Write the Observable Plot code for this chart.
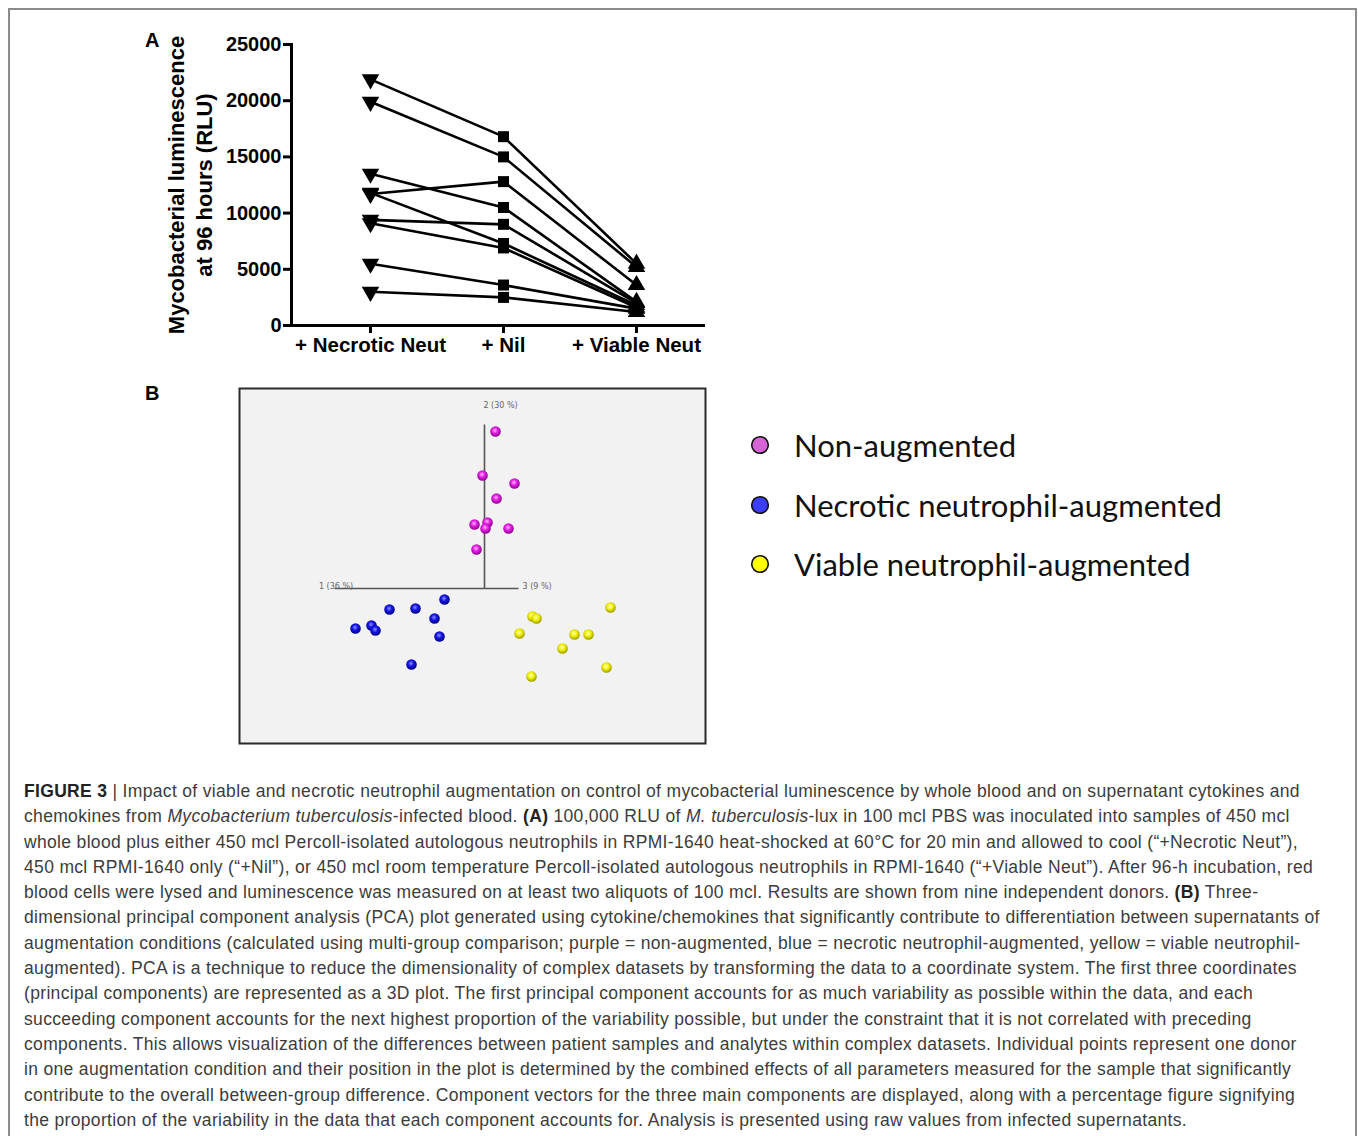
<!DOCTYPE html>
<html>
<head>
<meta charset="utf-8">
<script src="https://cdn.jsdelivr.net/npm/d3@7"></script>
<script src="https://cdn.jsdelivr.net/npm/@observablehq/plot@0.6"></script>
<style>
  html, body { margin: 0; padding: 0; background: #fff; }
  body { width: 1358px; height: 1136px; position: relative; overflow: hidden; }
  #frame { position: absolute; left: 8px; top: 8px; width: 1349px; height: 1200px; border: 2px solid #8c8c8c; box-sizing: border-box; }
  .panel-letter { position: absolute; font-family: "Liberation Sans", Arial, sans-serif; font-weight: bold; font-size: 20px; color: #000; }
  #plotA { position: absolute; left: 140px; top: 20px; }
  #plotB { position: absolute; left: 238px; top: 387px; }
  #legend { position: absolute; left: 740px; top: 420px; }
  .leg-item { position: absolute; left: 0; height: 40px; white-space: nowrap; font-family: Lato, "Noto Sans", sans-serif; font-size: 31px; color: #111; display: flex; align-items: center; }
  .leg-item svg { margin-left: 10px; margin-right: 24px; }
  #caption { position: absolute; left: 24px; top: 779px; font-family: "Liberation Sans", Arial, sans-serif; font-size: 17.5px; letter-spacing: 0.33px; line-height: 25.3px; color: #3c3c3c; }
  #caption div { white-space: nowrap; }
  #caption b { color: #222; }
</style>
</head>
<body>
<div id="frame"></div>
<div class="panel-letter" style="left:145px; top:29px;">A</div>
<div class="panel-letter" style="left:145px; top:382px;">B</div>
<div id="plotA"></div>
<div id="plotB"></div>
<div id="legend"></div>
<div id="caption"></div>
<script>
// ---------------- Panel A data ----------------
const conditions = ["+ Necrotic Neut", "+ Nil", "+ Viable Neut"];
const donors = ["D1", "D2", "D3", "D4", "D5", "D6", "D7", "D8", "D9"];
const necroticRLU = [21900, 19900, 13500, 11700, 11800, 9400, 9100, 5500, 3000];
const nilRLU      = [16800, 15000, 10500, 12800, 7300, 9000, 6900, 3600, 2500];
const viableRLU   = [5500, 5200, 2100, 3600, 1800, 2000, 1600, 1500, 1200];
const yTicks = [0, 5000, 10000, 15000, 20000, 25000];
const yLabel = "Mycobacterial luminescence\nat 96 hours (RLU)";

// ---------------- Panel B data (projected PCA coordinates) ----------------
const groups = ["Non-augmented", "Necrotic neutrophil-augmented", "Viable neutrophil-augmented"];
const nonAugX = [1.1, -0.2, 3.0, 1.2, -1.0, 0.3, 0.1, 2.4, -0.8];
const nonAugY = [15.7, 11.3, 10.5, 9.0, 6.4, 6.6, 6.0, 6.0, 3.9];
const necX = [-4.0, -9.5, -6.9, -5.0, -12.9, -11.3, -10.9, -4.5, -7.3];
const necY = [-1.1, -2.1, -2.0, -3.0, -4.0, -3.7, -4.2, -4.8, -7.6];
const viaX = [12.6, 4.8, 5.2, 3.5, 9.0, 10.4, 7.8, 12.2, 4.7];
const viaY = [-1.9, -2.8, -3.0, -4.5, -4.6, -4.6, -6.0, -7.9, -8.8];
const pcLabels = ["1 (36 %)", "2 (30 %)", "3 (9 %)"];
const pcEndX = [-15.0, 0, 3.4];
const pcEndY = [0, 16.4, 0];

// ---------------- Panel A ----------------
const long = [];
donors.forEach((d, i) => {
  [necroticRLU, nilRLU, viableRLU].forEach((arr, j) => {
    long.push({donor: d, cond: conditions[j], value: arr[i]});
  });
});

const plotA = Plot.plot({
  width: 580,
  height: 345,
  marginTop: 24,
  marginBottom: 40,
  marginLeft: 150,
  marginRight: 14,
  style: {color: "#000", fontFamily: "'Liberation Sans', Arial, sans-serif", background: "transparent", overflow: "visible"},
  x: {type: "point", domain: conditions, range: [229, 496], padding: 0},
  y: {domain: [0, 25000]},
  marks: [
    Plot.line(long, {x: "cond", y: "value", z: "donor", stroke: "#000", strokeWidth: 2.6}),
    Plot.dot(long.filter(d => d.cond === conditions[0]), {x: "cond", y: "value", symbol: "triangle", rotate: 180, r: 6.5, fill: "#000"}),
    Plot.dot(long.filter(d => d.cond === conditions[1]), {x: "cond", y: "value", symbol: "square", r: 6.2, fill: "#000"}),
    Plot.dot(long.filter(d => d.cond === conditions[2]), {x: "cond", y: "value", symbol: "triangle", r: 6.5, fill: "#000"}),
    Plot.axisY({ticks: yTicks, tickFormat: d => String(d), tickSize: 7, tickPadding: 2, fontSize: 20, fontWeight: "bold", strokeWidth: 3, label: null}),
    Plot.axisX({tickSize: 8, tickPadding: 4, fontSize: 20.5, fontWeight: "bold", strokeWidth: 3, label: null}),
    Plot.frame({anchor: "left", strokeWidth: 3, dx: 1}),
    Plot.ruleY([0], {strokeWidth: 3, dx: -1}),
    Plot.text([yLabel], {frameAnchor: "left", textAnchor: "middle", lineAnchor: "middle", dx: -101, rotate: -90, fontSize: 22, fontWeight: "bold", lineHeight: 1.27, fill: "#000"})
  ]
});
document.getElementById("plotA").appendChild(plotA);

// ---------------- Panel B ----------------
const pcaPoints = [];
nonAugX.forEach((x, i) => pcaPoints.push({group: groups[0], x, y: nonAugY[i]}));
necX.forEach((x, i) => pcaPoints.push({group: groups[1], x, y: necY[i]}));
viaX.forEach((x, i) => pcaPoints.push({group: groups[2], x, y: viaY[i]}));
const pcs = pcLabels.map((label, i) => ({label, x: pcEndX[i], y: pcEndY[i]}));

const gradIds = ["gM", "gB", "gY"];
const plotB = Plot.plot({
  width: 468,
  height: 357,
  margin: 0,
  style: {background: "transparent", overflow: "visible"},
  x: {domain: [-24.6, 22.2], axis: null},
  y: {domain: [-15.6, 20.1], axis: null},
  marks: [
    Plot.frame({fill: "#f2f2f2", stroke: "#2a2a2a", strokeWidth: 2, inset: 1}),
    Plot.link(pcs, {x1: 0, y1: 0, x2: "x", y2: "y", stroke: "#555", strokeWidth: 1.6}),
    Plot.text([pcs[0]], {x: "x", y: "y", text: "label", dx: 1.5, dy: -2, fontSize: 8, fill: "#666", fontFamily: "'DejaVu Sans', Verdana, sans-serif"}),
    Plot.text([pcs[1]], {x: "x", y: "y", text: "label", dx: 16, dy: -19, fontSize: 8, fill: "#666", fontFamily: "'DejaVu Sans', Verdana, sans-serif"}),
    Plot.text([pcs[2]], {x: "x", y: "y", text: "label", dx: 4, dy: -2, textAnchor: "start", fontSize: 8, fill: "#666", fontFamily: "'DejaVu Sans', Verdana, sans-serif"}),
    Plot.dot(pcaPoints, {x: "x", y: "y", r: 5.3, stroke: null,
      fill: d => `url(#${gradIds[groups.indexOf(d.group)]})`})
  ]
});
const defs = d3.select(plotB).insert("defs", ":first-child");
const gradSpec = [
  ["gM", "#ffb0ff", "#e31fe3", "#8a008a"],
  ["gB", "#8f8fff", "#1414e6", "#000078"],
  ["gY", "#ffffc8", "#f2f200", "#9a9a00"]
];
gradSpec.forEach(([id, c0, c1, c2]) => {
  const g = defs.append("radialGradient").attr("id", id).attr("cx", "45%").attr("cy", "40%").attr("r", "60%");
  g.append("stop").attr("offset", "0%").attr("stop-color", c0);
  g.append("stop").attr("offset", "45%").attr("stop-color", c1);
  g.append("stop").attr("offset", "100%").attr("stop-color", c2);
});
document.getElementById("plotB").appendChild(plotB);

// ---------------- Legend ----------------
const legendColors = ["#d764d7", "#3d3dff", "#ffff00"];
const legend = document.getElementById("legend");
groups.forEach((g, i) => {
  const item = document.createElement("div");
  item.className = "leg-item";
  item.style.top = (5 + i * 59.5) + "px";
  item.innerHTML = `<svg width="20" height="20"><circle cx="10" cy="10" r="8.3" fill="${legendColors[i]}" stroke="#111" stroke-width="1.6"/></svg><span>${g}</span>`;
  legend.appendChild(item);
});

// ---------------- Caption ----------------
const captionLines = [
  "<b>FIGURE 3</b> | Impact of viable and necrotic neutrophil augmentation on control of mycobacterial luminescence by whole blood and on supernatant cytokines and",
  "chemokines from <i>Mycobacterium tuberculosis</i>-infected blood. <b>(A)</b> 100,000 RLU of <i>M. tuberculosis</i>-lux in 100 mcl PBS was inoculated into samples of 450 mcl",
  "whole blood plus either 450 mcl Percoll-isolated autologous neutrophils in RPMI-1640 heat-shocked at 60°C for 20 min and allowed to cool (“+Necrotic Neut”),",
  "450 mcl RPMI-1640 only (“+Nil”), or 450 mcl room temperature Percoll-isolated autologous neutrophils in RPMI-1640 (“+Viable Neut”). After 96-h incubation, red",
  "blood cells were lysed and luminescence was measured on at least two aliquots of 100 mcl. Results are shown from nine independent donors. <b>(B)</b> Three-",
  "dimensional principal component analysis (PCA) plot generated using cytokine/chemokines that significantly contribute to differentiation between supernatants of",
  "augmentation conditions (calculated using multi-group comparison; purple = non-augmented, blue = necrotic neutrophil-augmented, yellow = viable neutrophil-",
  "augmented). PCA is a technique to reduce the dimensionality of complex datasets by transforming the data to a coordinate system. The first three coordinates",
  "(principal components) are represented as a 3D plot. The first principal component accounts for as much variability as possible within the data, and each",
  "succeeding component accounts for the next highest proportion of the variability possible, but under the constraint that it is not correlated with preceding",
  "components. This allows visualization of the differences between patient samples and analytes within complex datasets. Individual points represent one donor",
  "in one augmentation condition and their position in the plot is determined by the combined effects of all parameters measured for the sample that significantly",
  "contribute to the overall between-group difference. Component vectors for the three main components are displayed, along with a percentage figure signifying",
  "the proportion of the variability in the data that each component accounts for. Analysis is presented using raw values from infected supernatants."
];
document.getElementById("caption").innerHTML = captionLines.map(l => `<div>${l}</div>`).join("");
</script>
</body>
</html>
